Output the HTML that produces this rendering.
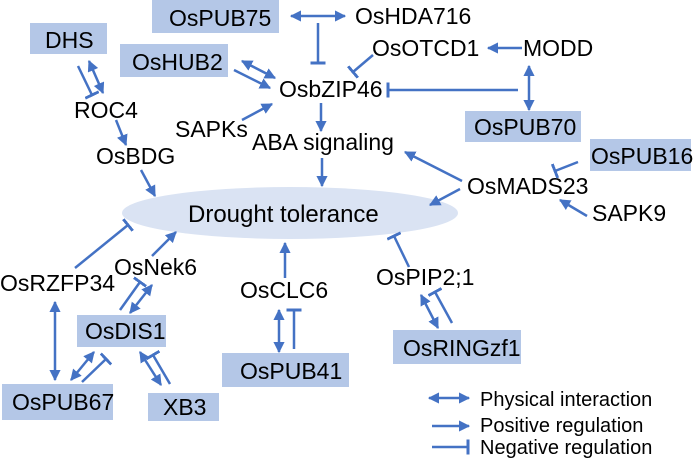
<!DOCTYPE html>
<html><head><meta charset="utf-8"><style>
html,body{margin:0;padding:0;background:#fff;width:697px;height:461px;overflow:hidden}
svg{display:block}
text{font-family:"Liberation Sans",Arial,sans-serif;font-size:23px;fill:#000}
.l{stroke:#4472c4;stroke-width:2.5;fill:none}
.b{fill:#b4c7e7}
</style></head><body>
<svg width="697" height="461" viewBox="0 0 697 461">
<defs>
<marker id="a" viewBox="0 0 10 10" refX="9" refY="5" markerWidth="4.5" markerHeight="4.5" orient="auto-start-reverse" markerUnits="strokeWidth"><path d="M0,0 L10,5 L0,10 z" fill="#4472c4"/></marker>
<marker id="t" viewBox="0 0 2 10" refX="1" refY="5" markerWidth="1.2" markerHeight="6" orient="auto" markerUnits="strokeWidth"><rect x="0" y="0" width="2" height="10" fill="#4472c4"/></marker>
</defs>
<ellipse cx="290" cy="213" rx="168" ry="26" fill="#dae3f3"/>
<rect class="b" x="152" y="0" width="127" height="33"/>
<rect class="b" x="30" y="23" width="77" height="31"/>
<rect class="b" x="120" y="44" width="108" height="33"/>
<rect class="b" x="465" y="111" width="116" height="31"/>
<rect class="b" x="590" y="139" width="101" height="32"/>
<rect class="b" x="77" y="315" width="89" height="32"/>
<rect class="b" x="2" y="384" width="111" height="36"/>
<rect class="b" x="148" y="393" width="71" height="28"/>
<rect class="b" x="222" y="353" width="127" height="34"/>
<rect class="b" x="393" y="330" width="128" height="34"/>

<text x="169" y="26">OsPUB75</text>
<text x="45" y="48">DHS</text>
<text x="132" y="70">OsHUB2</text>
<text x="355" y="24">OsHDA716</text>
<text x="372" y="56">OsOTCD1</text>
<text x="523" y="56">MODD</text>
<text x="279" y="97">OsbZIP46</text>
<text x="474" y="135">OsPUB70</text>
<text x="74" y="118">ROC4</text>
<text x="175" y="137">SAPKs</text>
<text x="252" y="150">ABA signaling</text>
<text x="96" y="164">OsBDG</text>
<text x="591" y="164">OsPUB16</text>
<text x="467" y="194">OsMADS23</text>
<text x="592" y="221">SAPK9</text>
<text x="188" y="222" style="font-size:24px">Drought tolerance</text>
<text x="0" y="291">OsRZFP34</text>
<text x="114" y="275">OsNek6</text>
<text x="240" y="298">OsCLC6</text>
<text x="376" y="285">OsPIP2;1</text>
<text x="85" y="339">OsDIS1</text>
<text x="12" y="410">OsPUB67</text>
<text x="163" y="415">XB3</text>
<text x="240" y="379">OsPUB41</text>
<text x="403" y="356">OsRINGzf1</text>
<text x="480" y="406" style="font-size:20px">Physical interaction</text>
<text x="480" y="432" style="font-size:20px">Positive regulation</text>
<text x="480" y="454" style="font-size:20px">Negative regulation</text>

<line class="l" x1="291" y1="16" x2="345" y2="16" marker-start="url(#a)" marker-end="url(#a)"/>
<line class="l" x1="318" y1="23" x2="318" y2="63" marker-end="url(#t)"/>
<line class="l" x1="373" y1="55" x2="353" y2="72" marker-end="url(#t)"/>
<line class="l" x1="522" y1="48" x2="488" y2="48" marker-end="url(#a)"/>
<line class="l" x1="529" y1="66" x2="529" y2="110" marker-start="url(#a)" marker-end="url(#a)"/>
<line class="l" x1="518" y1="90" x2="388" y2="90" marker-end="url(#t)"/>
<line class="l" x1="242" y1="61" x2="275" y2="78" marker-start="url(#a)" marker-end="url(#a)"/>
<line class="l" x1="234" y1="70" x2="270" y2="88" marker-end="url(#a)"/>
<line class="l" x1="242" y1="120" x2="272" y2="104" marker-end="url(#a)"/>
<line class="l" x1="321" y1="103" x2="321" y2="131" marker-end="url(#a)"/>
<line class="l" x1="322" y1="158" x2="322" y2="186" marker-end="url(#a)"/>
<line class="l" x1="78" y1="66" x2="92" y2="95" marker-end="url(#t)"/>
<line class="l" x1="89" y1="61" x2="103" y2="93" marker-start="url(#a)" marker-end="url(#a)"/>
<line class="l" x1="116" y1="120" x2="126" y2="145" marker-end="url(#a)"/>
<line class="l" x1="141" y1="170" x2="155" y2="196" marker-end="url(#a)"/>
<line class="l" x1="462" y1="181" x2="405" y2="152" marker-end="url(#a)"/>
<line class="l" x1="460" y1="189" x2="430" y2="205" marker-end="url(#a)"/>
<line class="l" x1="578" y1="162" x2="555" y2="171" marker-end="url(#t)"/>
<line class="l" x1="587" y1="216" x2="560" y2="200" marker-end="url(#a)"/>
<line class="l" x1="75" y1="268" x2="128" y2="225" marker-end="url(#t)"/>
<line class="l" x1="55" y1="302" x2="55" y2="380" marker-start="url(#a)" marker-end="url(#a)"/>
<line class="l" x1="152" y1="256" x2="176" y2="232" marker-end="url(#a)"/>
<line class="l" x1="120" y1="310" x2="140" y2="282" marker-end="url(#t)"/>
<line class="l" x1="130" y1="313" x2="152" y2="285" marker-start="url(#a)" marker-end="url(#a)"/>
<line class="l" x1="71" y1="380" x2="94" y2="352" marker-start="url(#a)" marker-end="url(#a)"/>
<line class="l" x1="82" y1="382" x2="106" y2="359" marker-end="url(#t)"/>
<line class="l" x1="140" y1="352" x2="161" y2="385" marker-start="url(#a)" marker-end="url(#a)"/>
<line class="l" x1="170" y1="384" x2="153" y2="355" marker-end="url(#t)"/>
<line class="l" x1="279" y1="310" x2="279" y2="352" marker-start="url(#a)" marker-end="url(#a)"/>
<line class="l" x1="294" y1="349" x2="294" y2="310" marker-end="url(#t)"/>
<line class="l" x1="285" y1="278" x2="285" y2="243" marker-end="url(#a)"/>
<line class="l" x1="409" y1="267" x2="394" y2="236" marker-end="url(#t)"/>
<line class="l" x1="421" y1="295" x2="438" y2="328" marker-start="url(#a)" marker-end="url(#a)"/>
<line class="l" x1="452" y1="323" x2="435" y2="292" marker-end="url(#t)"/>

<line class="l" x1="429" y1="398" x2="469" y2="398" marker-start="url(#a)" marker-end="url(#a)"/>
<line class="l" x1="432" y1="426" x2="469" y2="426" marker-end="url(#a)"/>
<line class="l" x1="432" y1="447" x2="468" y2="447" marker-end="url(#t)"/>
</svg>
</body></html>
